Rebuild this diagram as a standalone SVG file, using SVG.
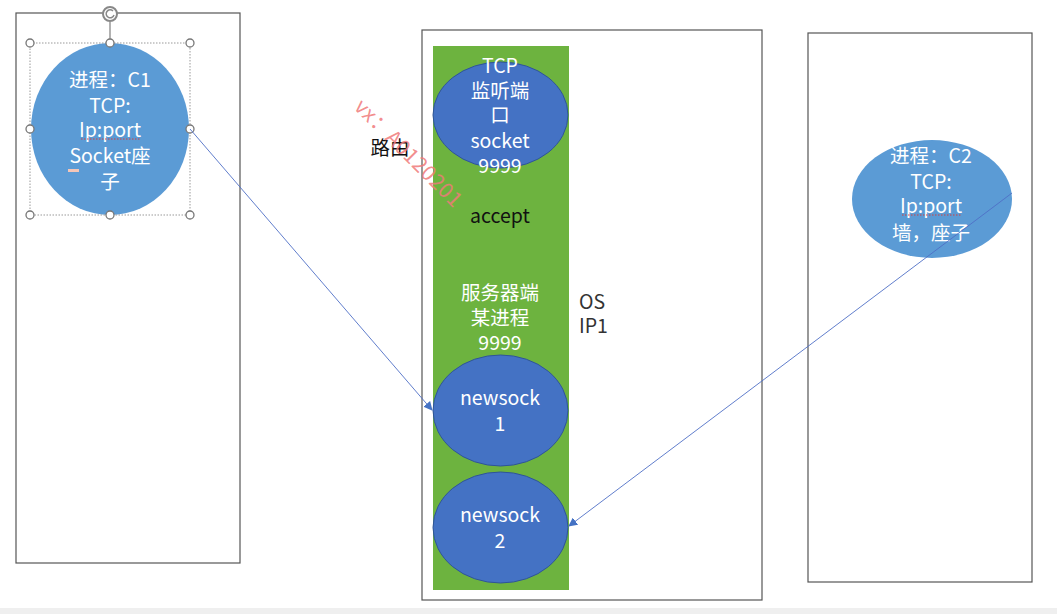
<svg xmlns="http://www.w3.org/2000/svg" width="1057" height="614" viewBox="0 0 1057 614">
<defs>
<style>
.box{fill:#fff;stroke:#555;stroke-width:1.2}
.t{font-family:"Noto Sans CJK SC","Liberation Sans",sans-serif;font-size:19.5px;text-anchor:middle}
.w{fill:#fff}
.k{fill:#111}
.blue{fill:#4472C4;stroke:#2F5597;stroke-width:1}
.lblue{fill:#5B9BD5}
.conn{stroke:#4F6FC6;stroke-width:0.9;fill:none}
.h{fill:#fff;stroke:#777;stroke-width:1.3}
.sq{stroke:#d04040;stroke-width:1;fill:none;stroke-dasharray:1.5 1.5}
</style>
<marker id="arr" viewBox="0 0 10 10" refX="9" refY="5" markerWidth="9" markerHeight="9" orient="auto" markerUnits="userSpaceOnUse">
<path d="M0,0 L10,5 L0,10 z" fill="#4472C4"/>
</marker>
</defs>
<rect x="0" y="0" width="1057" height="614" fill="#fff"/>
<rect x="0" y="608" width="1057" height="6" fill="#efefef"/>

<g id="client1">
<rect class="box" x="16" y="13" width="224" height="550"/>
<ellipse class="lblue" cx="110" cy="129" rx="79" ry="86"/>
<rect x="30" y="43" width="160" height="172" fill="none" stroke="#999" stroke-width="1" stroke-dasharray="1.5 1.5"/>
<line x1="110" y1="22" x2="110" y2="43" stroke="#888" stroke-width="1.3"/>
<circle cx="110" cy="14" r="7" fill="#fff" stroke="#888" stroke-width="2"/>
<path d="M113,11 A4,4 0 1 0 114,15" fill="none" stroke="#888" stroke-width="1.5"/>
<circle class="h" cx="30" cy="43" r="4"/><circle class="h" cx="110" cy="43" r="4"/><circle class="h" cx="190" cy="43" r="4"/>
<circle class="h" cx="30" cy="129" r="4"/><circle class="h" cx="190" cy="129" r="4"/>
<circle class="h" cx="30" cy="215" r="4"/><circle class="h" cx="110" cy="215" r="4"/><circle class="h" cx="190" cy="215" r="4"/>
<text class="t w" x="110" y="87">进程：C1</text>
<text class="t w" x="110" y="113">TCP:</text>
<text class="t w" x="110" y="137">Ip:port</text>
<path class="sq" d="M81,139 L140,139"/>
<text class="t w" x="110" y="163">Socket座</text>
<rect x="68" y="169" width="11" height="3" fill="#f4c6b8"/>
<text class="t w" x="110" y="189">子</text>
</g>

<g id="server">
<rect class="box" x="422" y="30" width="340" height="570"/>
<rect x="433" y="46" width="136" height="544" fill="#6DB33F"/>
</g>

<g id="listen">
<ellipse class="blue" cx="500.5" cy="115" rx="67.5" ry="53"/>
<text class="t w" x="500" y="73">TCP</text>
<text class="t w" x="500" y="98">监听端</text>
<text class="t w" x="500" y="122">口</text>
<text class="t w" x="500" y="148">socket</text>
<text class="t w" x="500" y="173">9999</text>
</g>

<g id="labels">
<text class="t k" x="500" y="223">accept</text>
<text class="t w" x="500" y="300">服务器端</text>
<text class="t w" x="500" y="325">某进程</text>
<text class="t w" x="500" y="350">9999</text>
<text class="t k" x="390" y="155">路由</text>
<text class="t" x="579" y="309" fill="#333" style="text-anchor:start">OS</text>
<text class="t" x="579" y="333" fill="#333" style="text-anchor:start">IP1</text>
<text x="0" y="0" transform="translate(353,108) rotate(45)" font-family="Noto Sans CJK SC, Liberation Sans, sans-serif" font-size="21" fill="#F07A7A" fill-opacity="0.85" textLength="142">vx：A0120201</text>
</g>

<g id="newsock1">
<ellipse class="blue" cx="500.5" cy="410.5" rx="67.5" ry="55.5"/>
<text class="t w" x="500" y="405">newsock</text>
<text class="t w" x="500" y="431">1</text>
</g>

<g id="newsock2">
<ellipse class="blue" cx="500.5" cy="527.5" rx="67.5" ry="55.5"/>
<text class="t w" x="500" y="522">newsock</text>
<text class="t w" x="500" y="548">2</text>
</g>

<g id="client2">
<rect class="box" x="808" y="33" width="224" height="549"/>
<ellipse class="lblue" cx="932" cy="199" rx="80" ry="59"/>
<text class="t w" x="931" y="163">进程：C2</text>
<text class="t w" x="931" y="189">TCP:</text>
<text class="t w" x="931" y="213">Ip:port</text>
<path class="sq" d="M902,215 L962,215"/>
<text class="t w" x="931" y="240">墙，座子</text>
</g>

<g id="connectors">
<line class="conn" x1="190" y1="129" x2="432" y2="410" marker-end="url(#arr)"/>
<line class="conn" x1="1012" y1="193" x2="569" y2="526" marker-end="url(#arr)"/>
</g>
</svg>
